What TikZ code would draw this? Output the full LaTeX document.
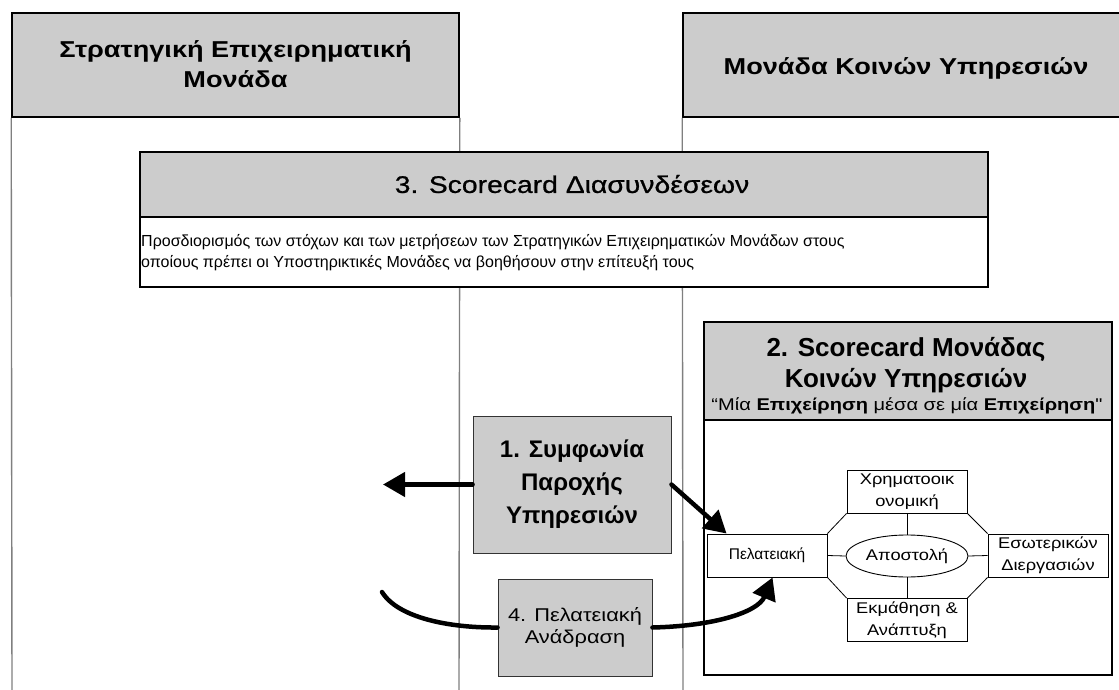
\documentclass[tikz,border=0pt]{standalone}
\usepackage{fontspec}
\setmainfont{Liberation Sans}
\newfontfamily\widesans[FakeStretch=1.18]{Liberation Sans}
\newfontfamily\widesemi[FakeStretch=1.18,FakeBold=0.8]{Liberation Sans}
\usetikzlibrary{arrows.meta,calc,shapes.geometric}
\definecolor{headgray}{HTML}{CCCCCC}
\definecolor{lanegray}{HTML}{7F7F7F}
\definecolor{edgegray}{HTML}{333333}

\begin{document}
\begin{tikzpicture}[x=1pt,y=-1pt,
  lanehead/.style={draw=black, line width=1.6pt, fill=headgray, inner sep=0pt},
  headtext/.style={inner sep=0pt, align=center, font=\widesans\fontsize{23}{30}\selectfont\bfseries},
  laneline/.style={draw=lanegray, line width=1.4pt},
  cardhead/.style={draw=black, line width=1.4pt, fill=headgray, inner sep=0pt},
  cardbody/.style={draw=black, line width=1.4pt, fill=white, inner sep=0pt},
  graybox/.style={draw=edgegray, line width=0.9pt, fill=headgray, inner sep=0pt, align=center},
  persp/.style={draw=black, line width=0.9pt, fill=white, inner sep=0pt, align=center,
    minimum width=120pt, minimum height=43pt, font=\widesans\fontsize{15.5}{22}\selectfont},
  thin/.style={draw=black, line width=0.8pt},
  flow/.style={draw=black, line width=4.5pt, line cap=round},
  tip/.style={-{Triangle[length=22pt,width=24pt]}}
]
\useasboundingbox (0,0) rectangle (1119,690);

% swim lane headers
\node[lanehead, minimum width=447pt, minimum height=104pt] (lh) at (235.5,65) {};
\node[headtext] (lht) at (235.5,64) {Στρατηγική Επιχειρηματική\\Μονάδα};
\node[lanehead, minimum width=452pt, minimum height=104pt] (rh) at (909,65) {};
\node[headtext] (rht) at (906,68) {Μονάδα Κοινών Υπηρεσιών};

% lane borders
\coordinate (lbl) at (12,690);
\coordinate (lbr) at (459,690);
\coordinate (rbl) at (683,690);
\draw[laneline] (lh.south west) -- (lbl);
\draw[laneline] (lh.south east) -- (lbr);
\draw[laneline] (rh.south west) -- (rbl);

% 3. interface scorecard
\node[cardhead, minimum width=848pt, minimum height=65pt] (s3h) at (564,184.5) {};
\node[font=\widesemi\fontsize{24}{28}\selectfont] (s3t) at (572,184) {3. Scorecard Διασυνδέσεων};
\node[cardbody, minimum width=848pt, minimum height=70pt] (s3b) at (564,252) {};
\node[anchor=north west, inner sep=0pt, align=left, font=\fontsize{16}{21}\selectfont]
  (s3x) at (141,234)
  {Προσδιορισμός των στόχων και των μετρήσεων των Στρατηγικών Επιχειρηματικών Μονάδων στους\\
   οποίους πρέπει οι Υποστηρικτικές Μονάδες να βοηθήσουν στην επίτευξή τους};

% 2. shared services scorecard
\node[cardhead, minimum width=408pt, minimum height=98pt] (s2h) at (908,371) {};
\node[font=\fontsize{26}{30}\selectfont\bfseries] (s2a) at (906,349) {2. Scorecard Μονάδας};
\node[font=\fontsize{26}{30}\selectfont\bfseries] (s2b) at (906,381) {Κοινών Υπηρεσιών};
\node[font=\widesans\fontsize{17}{20}\selectfont] (s2c) at (907,406)
  {“Μία \textbf{Επιχείρηση} μέσα σε μία \textbf{Επιχείρηση}"};
\node[cardbody, minimum width=408pt, minimum height=255pt] (s2b2) at (908,547.5) {};

% four perspectives round the mission
\node[persp] (fin) at (907,491.5) {Χρηματοοικ\\ονομική};
\node[persp, font=\fontsize{15.5}{22}\selectfont] (cust) at (767,555.5) {Πελατειακή};
\node[persp] (int) at (1048,555.5) {Εσωτερικών\\Διεργασιών};
\node[persp] (learn) at (907,620) {Εκμάθηση \&\\Ανάπτυξη};
\node[draw=black, line width=0.9pt, ellipse, minimum width=122pt, minimum height=42pt,
  inner sep=0pt, font=\widesans\fontsize{15.5}{19}\selectfont] (mis) at (907,556) {Αποστολή};

\draw[thin] (fin.south west) -- (cust.north east);
\draw[thin] (fin.south east) -- (int.north west);
\draw[thin] (cust.south east) -- (learn.north west);
\draw[thin] (int.south west) -- (learn.north east);
\draw[thin] (fin.south) -- (mis.north);
\draw[thin] (mis.south) -- (learn.north);
\draw[thin] (cust.east) -- (mis.west);
\draw[thin] (mis.east) -- (int.west);

% 1. service level agreement
\node[graybox, minimum width=198pt, minimum height=137pt,
  font=\fontsize{24}{33}\selectfont\bfseries] (sla) at (572,484.5)
  {1. Συμφωνία\\Παροχής\\Υπηρεσιών};
% 4. customer feedback
\node[graybox, minimum width=154pt, minimum height=97pt,
  font=\widesans\fontsize{18.5}{22}\selectfont] (fb) at (575,627.5)
  {4. Πελατειακή\\Ανάδραση};

% flows
\coordinate (slaend) at (383,484.5);
\coordinate (fbstart) at (382,592);
\draw[flow, tip] (sla.west) -- (slaend);
\draw[flow, tip] (sla.east) -- ($(cust.north west)+(20,0)$);
\draw[flow] (fbstart) .. controls (398,618) and (450,628) .. (fb.west);
\draw[flow, tip] (fb.east) .. controls (715,626) and (758,612) .. ($(cust.south west)+(66,0)$);
\end{tikzpicture}
\end{document}
